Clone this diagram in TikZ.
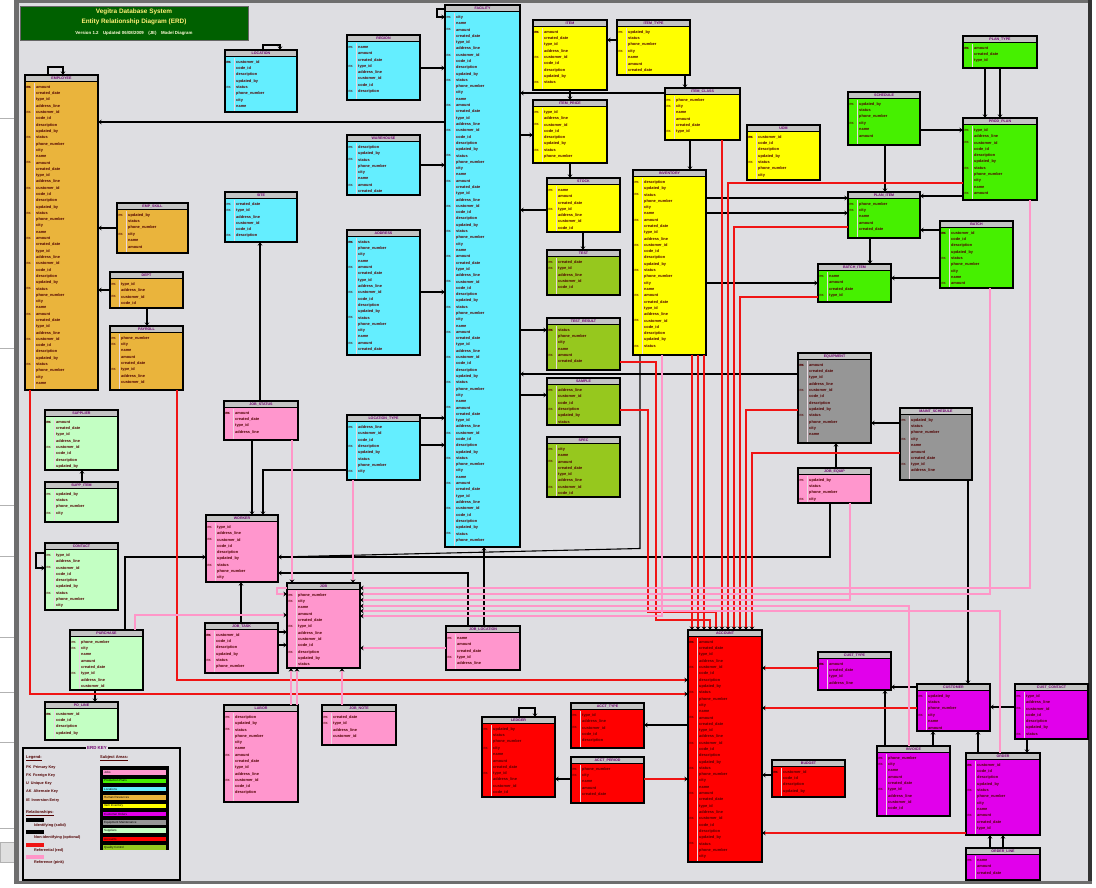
\documentclass[tikz,border=0pt]{standalone}
\usepackage{fontspec}
\setmainfont{Liberation Sans}
\usetikzlibrary{arrows.meta}
\definecolor{bg}{RGB}{222,222,226}
\definecolor{framegray}{RGB}{110,110,110}
\definecolor{titlegreen}{RGB}{0,96,0}
\definecolor{titleyellow}{RGB}{255,240,120}
\definecolor{hdrgray}{RGB}{196,196,196}
\definecolor{sepcol}{RGB}{235,215,225}
\definecolor{fieldcol}{RGB}{80,0,0}
\definecolor{titlecol}{RGB}{110,0,110}
\definecolor{corange}{RGB}{234,180,60}
\definecolor{ccyan}{RGB}{100,238,255}
\definecolor{cyellow}{RGB}{255,255,0}
\definecolor{colive}{RGB}{150,200,30}
\definecolor{cgreen}{RGB}{70,240,0}
\definecolor{cgray}{RGB}{150,150,150}
\definecolor{cpink}{RGB}{255,150,205}
\definecolor{clgreen}{RGB}{195,255,195}
\definecolor{cred}{RGB}{255,0,0}
\definecolor{cmag}{RGB}{225,0,235}
\definecolor{relred}{RGB}{240,20,20}
\definecolor{relpink}{RGB}{255,150,200}
\tikzset{
  erfill/.style={inner sep=0pt, outer sep=0pt, draw=none},
  erborder/.style={draw=black, line width=1.3pt},
  hdr/.style={fill=hdrgray},
  sepl/.style={draw=sepcol, line width=0.8pt},
  fieldtext/.style={anchor=west, inner sep=0pt, font=\fontsize{3.9}{4}\selectfont\bfseries, text=fieldcol},
  keytext/.style={anchor=west, inner sep=0pt, font=\fontsize{3}{3.2}\selectfont\bfseries, text=fieldcol},
  titletext/.style={inner sep=0pt, font=\fontsize{3.6}{3.8}\selectfont\bfseries, text=titlecol},
  rel/.style={draw=black, line width=1.1pt, -{Stealth[length=3.5pt,width=4.5pt]}},
  relr/.style={draw=relred, line width=1.1pt, -{Stealth[length=3.5pt,width=4.5pt,color=black]}},
  relp/.style={draw=relpink, line width=1.1pt, -{Stealth[length=3.5pt,width=4.5pt,color=black]}},
  legtext/.style={anchor=west, inner sep=0pt, font=\fontsize{3.8}{4}\selectfont\bfseries, text=fieldcol},
  leghead/.style={anchor=west, inner sep=0pt, font=\fontsize{4}{4.2}\selectfont\bfseries, text=fieldcol},
  bartext/.style={anchor=west, inner sep=0pt, font=\fontsize{3}{3.2}\selectfont, text=black},
}
\newcommand\fld[1]{\ifcase#1 customer\_id\or name\or description\or created\_date\or status\or address\_line\or city\or code\_id\or amount\or updated\_by\or type\_id\or phone\_number\else item\fi}
% name, title, x1, y1, x2, y2, fill, seed
\newcommand\ertab[8]{%
  \node[erfill, fill=#7, minimum width={#5-#3}, minimum height={#6-#4}] (#1) at ({(#3+#5)/2},{(#4+#6)/2}) {};
  \fill[hdr] (#3,#4) rectangle (#5,#4+6);
  \draw[line width=1pt] (#3,#4+6.5) -- (#5,#4+6.5);
  \draw[sepl] (#3+9,#4+7.5) -- (#3+9,#6-1);
  \node[titletext] at ({(#3+#5)/2},#4+3.3) {#2};
  \pgfmathtruncatemacro\nrows{(#6-#4-9)/6.3}
  \foreach \i in {1,...,\nrows}{%
    \pgfmathtruncatemacro\rowk{mod(\i*7+#8,12)}%
    \pgfmathtruncatemacro\rowf{mod(\i+#8,4)}%
    \node[fieldtext] at (#3+11,{#4+6+\i*6.3}) {\fld{\rowk}};
    \ifnum\i=1 \node[keytext] at (#3+1.5,{#4+6+\i*6.3}) {PK};\fi
    \ifnum\rowf=2 \node[keytext] at (#3+1.5,{#4+6+\i*6.3}) {FK};\fi
  }
  \draw[erborder] (#1.north west) rectangle (#1.south east);
}
\begin{document}
\begin{tikzpicture}[x=1pt,y=-1pt]
\useasboundingbox (0,0) rectangle (1096,887);
% window and frame
\fill[white] (0,0) rectangle (1096,887);
\foreach \yy in {118,348,505,556,637,692,742,828}{\draw[gray!60, line width=0.8pt] (0,\yy) -- (14,\yy);}
\fill[gray!25] (0,842) rectangle (20,862);
\draw[gray!60] (0,842) rectangle (20,862);
\fill[bg] (19,3) rectangle (1088,881);
\fill[framegray] (14,0) rectangle (19,884);
\fill[framegray] (14,0) rectangle (1092,3);
\fill[black!80] (1088,0) rectangle (1092,884);
\fill[framegray] (14,881) rectangle (1092,884);

% title
\node[fill=titlegreen, draw=black!60, line width=0.6pt, minimum width=228, minimum height=34, inner sep=0pt] (title) at (134,23) {};
\node[inner sep=0pt, font=\fontsize{6.4}{7}\selectfont\bfseries, text=titleyellow] (t1) at (134,12) {Vegitra Database System};
\node[inner sep=0pt, font=\fontsize{6.4}{7}\selectfont\bfseries, text=titleyellow] (t2) at (134,22) {Entity Relationship Diagram (ERD)};
\node[inner sep=0pt, font=\fontsize{4.4}{5}\selectfont\bfseries, text=white!85!yellow] (t3) at (134,33) {Version 1.2\quad Updated 06/08/2009\quad (JE)\quad Model Diagram};

% ===== tables =====
\ertab{o1}{EMPLOYEE}{25}{75}{98}{390}{corange}{1}
\ertab{o2}{EMP\_SKILL}{117}{203}{188}{253}{corange}{2}
\ertab{o3}{DEPT}{110}{272}{183}{308}{corange}{3}
\ertab{o4}{PAYROLL}{110}{326}{183}{390}{corange}{4}
\ertab{c1}{LOCATION}{225}{50}{297}{112}{ccyan}{5}
\ertab{c2}{REGION}{347}{35}{420}{100}{ccyan}{6}
\ertab{c3}{WAREHOUSE}{347}{135}{420}{195}{ccyan}{7}
\ertab{c4}{SITE}{225}{192}{297}{242}{ccyan}{8}
\ertab{c5}{ADDRESS}{347}{230}{420}{355}{ccyan}{9}
\ertab{c6}{LOCATION\_TYPE}{347}{415}{420}{480}{ccyan}{10}
\ertab{cb}{FACILITY}{445}{5}{520}{547}{ccyan}{11}
\ertab{y1}{ITEM}{533}{20}{607}{90}{cyellow}{1}
\ertab{y2}{ITEM\_TYPE}{617}{20}{690}{75}{cyellow}{2}
\ertab{y3}{ITEM\_PRICE}{533}{100}{607}{163}{cyellow}{3}
\ertab{y4}{ITEM\_CLASS}{665}{88}{740}{140}{cyellow}{4}
\ertab{y5}{UOM}{747}{125}{820}{180}{cyellow}{5}
\ertab{y6}{STOCK}{547}{178}{620}{232}{cyellow}{6}
\ertab{yb}{INVENTORY}{633}{170}{706}{355}{cyellow}{7}
\ertab{v1}{TEST}{547}{250}{620}{295}{colive}{8}
\ertab{v2}{TEST\_RESULT}{547}{318}{620}{370}{colive}{9}
\ertab{v3}{SAMPLE}{547}{378}{620}{425}{colive}{10}
\ertab{v4}{SPEC}{547}{437}{620}{497}{colive}{11}
\ertab{g1}{PLAN\_TYPE}{963}{36}{1037}{68}{cgreen}{1}
\ertab{g2}{SCHEDULE}{848}{92}{920}{145}{cgreen}{2}
\ertab{g3}{PROD\_PLAN}{963}{118}{1037}{200}{cgreen}{3}
\ertab{g4}{PLAN\_ITEM}{848}{192}{920}{238}{cgreen}{4}
\ertab{g5}{BATCH}{940}{221}{1013}{288}{cgreen}{5}
\ertab{g6}{BATCH\_ITEM}{818}{264}{891}{302}{cgreen}{6}
\ertab{k1}{EQUIPMENT}{798}{353}{871}{443}{cgray}{1}
\ertab{k2}{MAINT\_SCHEDULE}{900}{408}{972}{480}{cgray}{2}
\ertab{p1}{JOB\_STATUS}{224}{401}{298}{440}{cpink}{1}
\ertab{p2}{JOB\_EQUIP}{798}{468}{871}{503}{cpink}{2}
\ertab{p3}{WORKER}{206}{515}{278}{582}{cpink}{3}
\ertab{p4}{JOB}{287}{583}{360}{668}{cpink}{4}
\ertab{p5}{JOB\_TASK}{205}{623}{278}{673}{cpink}{5}
\ertab{p6}{JOB\_LOCATION}{446}{626}{520}{670}{cpink}{6}
\ertab{p7}{LABOR}{224}{705}{298}{802}{cpink}{7}
\ertab{p8}{JOB\_NOTE}{322}{705}{396}{745}{cpink}{8}
\ertab{l1}{SUPPLIER}{45}{410}{118}{470}{clgreen}{1}
\ertab{l2}{SUPP\_ITEM}{45}{482}{118}{522}{clgreen}{2}
\ertab{l3}{CONTACT}{45}{543}{118}{610}{clgreen}{3}
\ertab{l4}{PURCHASE}{70}{630}{143}{690}{clgreen}{4}
\ertab{l5}{PO\_LINE}{45}{702}{118}{740}{clgreen}{5}
\ertab{r0}{ACCOUNT}{688}{630}{762}{862}{cred}{1}
\ertab{r1}{LEDGER}{482}{717}{555}{797}{cred}{2}
\ertab{r2}{ACCT\_TYPE}{571}{703}{644}{748}{cred}{3}
\ertab{r3}{ACCT\_PERIOD}{571}{757}{644}{803}{cred}{4}
\ertab{r4}{BUDGET}{772}{760}{845}{797}{cred}{5}
\ertab{m1}{CUST\_TYPE}{818}{652}{891}{690}{cmag}{1}
\ertab{m2}{CUSTOMER}{917}{684}{990}{731}{cmag}{2}
\ertab{m3}{CUST\_CONTACT}{1015}{684}{1088}{739}{cmag}{3}
\ertab{m4}{INVOICE}{877}{746}{950}{816}{cmag}{4}
\ertab{m5}{ORDER}{966}{753}{1040}{835}{cmag}{5}
\ertab{m6}{ORDER\_LINE}{966}{848}{1040}{880}{cmag}{6}

% ===== connectors: black =====
\draw[rel] (cb.west |- 0,122) -- (o1.east |- 0,122);
\draw[rel] (c2.east |- 0,68) -- (cb.west |- 0,68);
\draw[rel] (c3.east |- 0,165) -- (cb.west |- 0,165);
\draw[rel] (c5.east |- 0,292) -- (cb.west |- 0,292);
\draw[rel] (c6.east |- 0,418) -- (cb.west |- 0,418);
\draw[rel] (c6.east |- 0,445) -- (cb.west |- 0,445);
\draw[rel] (p1.north -| 260,0) -- (c4.south -| 260,0);
\draw[rel] (p1.south -| 252,0) -- (p3.north -| 252,0);
\draw[rel] (c6.west |- 0,470) -| (p3.north -| 263,0);
\draw[rel] (o2.west |- 0,228) -- (o1.east |- 0,228);
\draw[rel] (o3.west |- 0,290) -- (o1.east |- 0,290);
\draw[rel] (o3.south -| 147,0) -- (o4.north -| 147,0);
\draw[rel] (l2.north -| 82,0) -- (l1.south -| 82,0);
\draw[rel] (l4.north -| 125,0) |- (p3.west |- 0,557);
\draw[rel] (l4.south -| 95,0) -- (l5.north -| 95,0);
\draw[rel] (p2.south -| 830,0) |- (p3.east |- 0,557);
\draw[line width=1.1pt] (yb.south -| 640,0) -- (p3.east -| 640,0) -- (p3.east |- 0,557);
\draw[rel] (p6.north -| 468,0) |- (p3.east |- 0,573);
\draw[rel] (p6.north -| 484,0) -- (cb.south -| 484,0);
\draw[rel] (p5.north -| 241,0) -- (p3.south -| 241,0);
\draw[rel] (p5.east |- 0,645) -- (p4.west |- 0,645);
\draw[rel] (p5.east |- 0,632) -- (p4.west |- 0,632);
% self loops
\draw[rel] (o1.north -| 48,0) -- ++(0,-8) -| (o1.north -| 63,0);
\draw[rel] (cb.west |- 0,9) -- (437,9) -- (437,17) -- (cb.west |- 0,17);
\draw[rel] (c1.north -| 263,0) -- ++(0,-5) -| (c1.north -| 280,0);
\draw[rel] (l3.west |- 0,553) -- (36,553) -- (36,568) -- (l3.west |- 0,568);
\draw[rel] (r1.north -| 519,0) -- ++(0,-9) -| (r1.north -| 535,0);
\draw[relp] (p4.west |- 0,588) -- (277,588) -- (277,594) -- (p4.west |- 0,594);
% yellow
\draw[rel] (y2.west |- 0,40) -- (y1.east |- 0,40);
\draw[rel] (y1.south -| 570,0) -- (y3.north -| 570,0);
\draw[rel] (y4.west |- 0,93) -- (cb.east |- 0,93);
\draw[rel] (y2.south -| 685,0) -- (y4.north -| 685,0);
\draw[rel] (y3.south -| 570,0) -- (y6.north -| 570,0);
\draw[rel] (y6.south -| 583,0) -- (v1.north -| 583,0);
\draw[rel] (y6.west |- 0,210) -- (cb.east |- 0,210);
\draw[rel] (cb.east |- 0,135) -- (y3.west |- 0,135);
\draw[rel] (cb.east |- 0,330) -- (v2.west |- 0,330);
\draw[rel] (cb.east |- 0,395) -- (v3.west |- 0,395);
\draw[rel] (y4.south -| 690,0) -- (yb.north -| 690,0);
\draw[rel] (k1.west |- 0,374) -- (cb.east |- 0,374);
% green
\draw[rel] (g1.south -| 985,0) -- (g3.north -| 985,0);
\draw[rel] (g1.south -| 1000,0) -- (g3.north -| 1000,0);
\draw[rel] (g2.east |- 0,130) -- (g3.west |- 0,130);
\draw[rel] (g2.south -| 885,0) -- (g4.north -| 885,0);
\draw[rel] (g3.west |- 0,196) -- (g4.east |- 0,196);
\draw[rel] (g5.west |- 0,230) -- (g4.east |- 0,230);
\draw[rel] (g4.south -| 870,0) -- (g6.north -| 870,0);
\draw[rel] (g5.west |- 0,278) -- (g6.east |- 0,278);
\draw[rel] (yb.east |- 0,283) -- (g6.west |- 0,283);
\draw[rel] (yb.east |- 0,198) -- (g4.west |- 0,198);
\draw[rel] (yb.east |- 0,213) -- (g4.west |- 0,213);
% gray
\draw[rel] (k2.west |- 0,423) -- (k1.east |- 0,423);
\draw[rel] (p2.north -| 836,0) -- (k1.south -| 836,0);
\draw[rel] (k2.south -| 968,0) -- (m2.north -| 968,0);
% magenta
\draw[rel] (m2.west |- 0,687) -- (m1.east |- 0,687);
\draw[rel] (m4.north -| 885,0) -- (m1.south -| 885,0);
\draw[rel] (m4.north -| 933,0) -- (m2.south -| 933,0);
\draw[rel] (m5.north -| 978,0) -- (m2.south -| 978,0);
\draw[rel] (m3.west |- 0,707) -- (m2.east |- 0,707);
\draw[rel] (m3.south -| 1027,0) -- (m5.north -| 1027,0);
\draw[rel] (m6.north -| 990,0) -- (m5.south -| 990,0);
\draw[rel] (m6.north -| 1003,0) -- (m5.south -| 1003,0);
% red group
\draw[rel] (r0.west |- 0,725) -- (r2.east |- 0,725);
\draw[rel] (r3.west |- 0,779) -- (r1.east |- 0,779);
\draw[rel] (r4.west |- 0,775) -- (r0.east |- 0,775);

% ===== red connectors =====
\draw[relr] (o1.south -| 30,0) |- (r0.west |- 0,694);
\draw[relr] (o4.south -| 177,0) |- (r0.west |- 0,680);
\draw[relr] (yb.south -| 692,0) -- (r0.north -| 692,0);
\draw[relr] (yb.south -| 698,0) -- (r0.north -| 698,0);
\draw[relr] (yb.south -| 704,0) -- (r0.north -| 704,0);
\draw[relr] (v2.east |- 0,362) -- (656,362) -- (656,620) -- (710,620) -- (r0.north -| 710,0);
\draw[relr] (v3.east |- 0,410) -- (648,410) -- (648,612) -- (716,612) -- (r0.north -| 716,0);
\draw[relr] (y4.south -| 722,0) -- (r0.north -| 722,0);
\draw[relr] (g3.west |- 0,183) -| (r0.north -| 728,0);
\draw[relr] (g4.west |- 0,227) -| (r0.north -| 734,0);
\draw[relr] (g6.west |- 0,297) -| (r0.north -| 740,0);
\draw[relr] (k1.west |- 0,410) -| (r0.north -| 746,0);
\draw[relr] (k2.west |- 0,453) -| (r0.north -| 752,0);
\draw[relr] (m1.west |- 0,668) -- (r0.east |- 0,668);
\draw[relr] (m2.west |- 0,708) -- (r0.east |- 0,708);
\draw[relr] (m5.west |- 0,833) -- (r0.east |- 0,833);
\draw[relr] (r3.east |- 0,779) -- (r0.west |- 0,779);

% ===== pink connectors =====
\draw[relp] (g3.south -| 1030,0) |- (p4.east |- 0,588);
\draw[relp] (g5.south -| 990,0) |- (p4.east |- 0,594);
\draw[relp] (p2.south -| 850,0) |- (p4.east |- 0,600);
\draw[relp] (m4.north -| 909,0) |- (p4.east |- 0,606);
\draw[relp] (m5.north -| 1000,0) |- (p4.east |- 0,611);
\draw[relp] (yb.south -| 662,0) |- (p4.east |- 0,616);
\draw[relp] (p6.west |- 0,648) -- (p4.east |- 0,648);
\draw[relp] (l4.north -| 135,0) |- (p4.west |- 0,615);
\draw[relp] (p1.south -| 292,0) -- (p4.north -| 292,0);
\draw[relp] (c6.south -| 353,0) -- (p4.north -| 353,0);
\draw[relp] (p7.north -| 291,0) -- (p4.south -| 291,0);
\draw[relp] (p7.north -| 297,0) -- (p4.south -| 297,0);
\draw[relp] (p8.north -| 342,0) -- (p4.south -| 342,0);

% ===== legend =====
\draw[line width=1.3pt] (23,748) rectangle (180,880);
\node[fill=bg, inner sep=1pt, font=\fontsize{4.4}{4.8}\selectfont\bfseries, text=titlecol] (keyt) at (97,748) {ERD KEY};
\node[leghead] (lh1) at (26,758) {\underline{Legend:}};
\node[legtext] (la) at (26,768) {PK\enspace Primary Key};
\node[legtext] (lb) at (26,776) {FK\enspace Foreign Key};
\node[legtext] (lc) at (26,784) {U\enspace Unique Key};
\node[legtext] (ld) at (26,792) {AK\enspace Alternate Key};
\node[legtext] (le) at (26,801) {IE\enspace Inversion Entry};
\node[leghead] (lh2) at (26,813) {\underline{Relationships:}};
\fill[black] (26,818) rectangle (44,822);
\node[legtext] (lr1) at (34,826) {Identifying (solid)};
\fill[black] (26,830) rectangle (44,834);
\node[legtext] (lr2) at (34,838) {Non-identifying (optional)};
\fill[relred] (26,843) rectangle (44,847);
\node[legtext] (lr3) at (34,851) {Referential (red)};
\fill[relpink] (26,855) rectangle (44,859);
\node[legtext] (lr4) at (34,863) {Reference (pink)};
\node[leghead] (lh3) at (100,758) {\underline{Subject Areas:}};
\fill[black] (100,766) rectangle (169,850);
\foreach \cc/\tt [count=\n] in {cpink/Jobs, cgreen/Production Plans, ccyan/Locations, corange/Human Resources, cyellow/Item Inventory, cmag/Customer Orders, cgray/Equipment Maintenance, clgreen/Suppliers, cred/Accounts, colive/Quality Control}{
  \fill[\cc] (103,{762+\n*8.3}) rectangle (166,{766.5+\n*8.3});
  \node[bartext] at (104,{764.3+\n*8.3}) {\tt};
}
\end{tikzpicture}
\end{document}
